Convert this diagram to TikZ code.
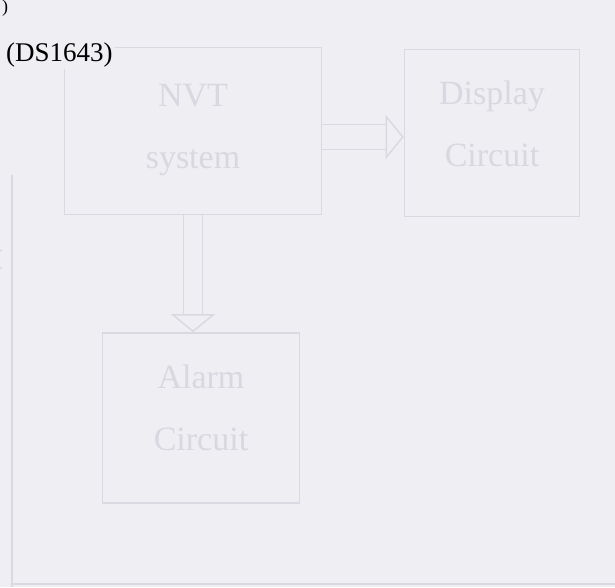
\documentclass[tikz,border=0pt]{standalone}
\usepackage{fontspec}
\setmainfont{Liberation Serif}
\usepackage{xcolor}
\usetikzlibrary{arrows.meta}
\definecolor{paper}{HTML}{EFEEF3}
\definecolor{faint}{HTML}{DAD9E1}
\definecolor{fainttext}{HTML}{D9D8E0}
\begin{document}
\begin{tikzpicture}[x=1pt, y=-1pt,
  blockbox/.style={draw=faint, line width=1.6pt, align=center, text=fainttext,
    font=\fontsize{34}{62}\selectfont, inner sep=0pt},
  hollowarrow/.style={draw=faint, line width=1.4pt, double=paper,
    double distance=#1, -{Triangle[open, length=18pt, width=44pt]}}]
\fill[paper] (0,0) rectangle (615,587);
\useasboundingbox (0,0) rectangle (615,587);
% scan edges
\draw[faint, line width=2pt] (12,175) -- (12,587);
\draw[faint, line width=1.5pt] (12,584) -- (615,584);
\draw[faint, line width=1.2pt] (2,250) arc (110:250:10pt);
% blocks
\node[blockbox, minimum width=257pt, minimum height=167pt, text depth=10pt] (nvt) at (193,131) {NVT\\system};
\node[blockbox, minimum width=175pt, minimum height=167pt, text depth=18pt] (display) at (492,133) {Display\\Circuit};
\node[blockbox, minimum width=197pt, minimum height=170pt, text depth=20pt] (alarm) at (201,418) {Alarm\\Circuit};
% links
\draw[hollowarrow=24pt] ([yshift=-6pt]nvt.east) -- ([yshift=-6pt]nvt.east -| display.west);
\draw[hollowarrow=18pt] (nvt.south -| 193,0) -- (alarm.north -| 193,0);
% caption
\node[anchor=north west, inner sep=0pt, font=\fontsize{18}{20}\selectfont] (prev) at (2,0) {)};
\node[anchor=base west, inner sep=2pt, fill=paper, font=\fontsize{27}{30}\selectfont] (chip) at (4,61) {(DS1643)};
\end{tikzpicture}
\end{document}
